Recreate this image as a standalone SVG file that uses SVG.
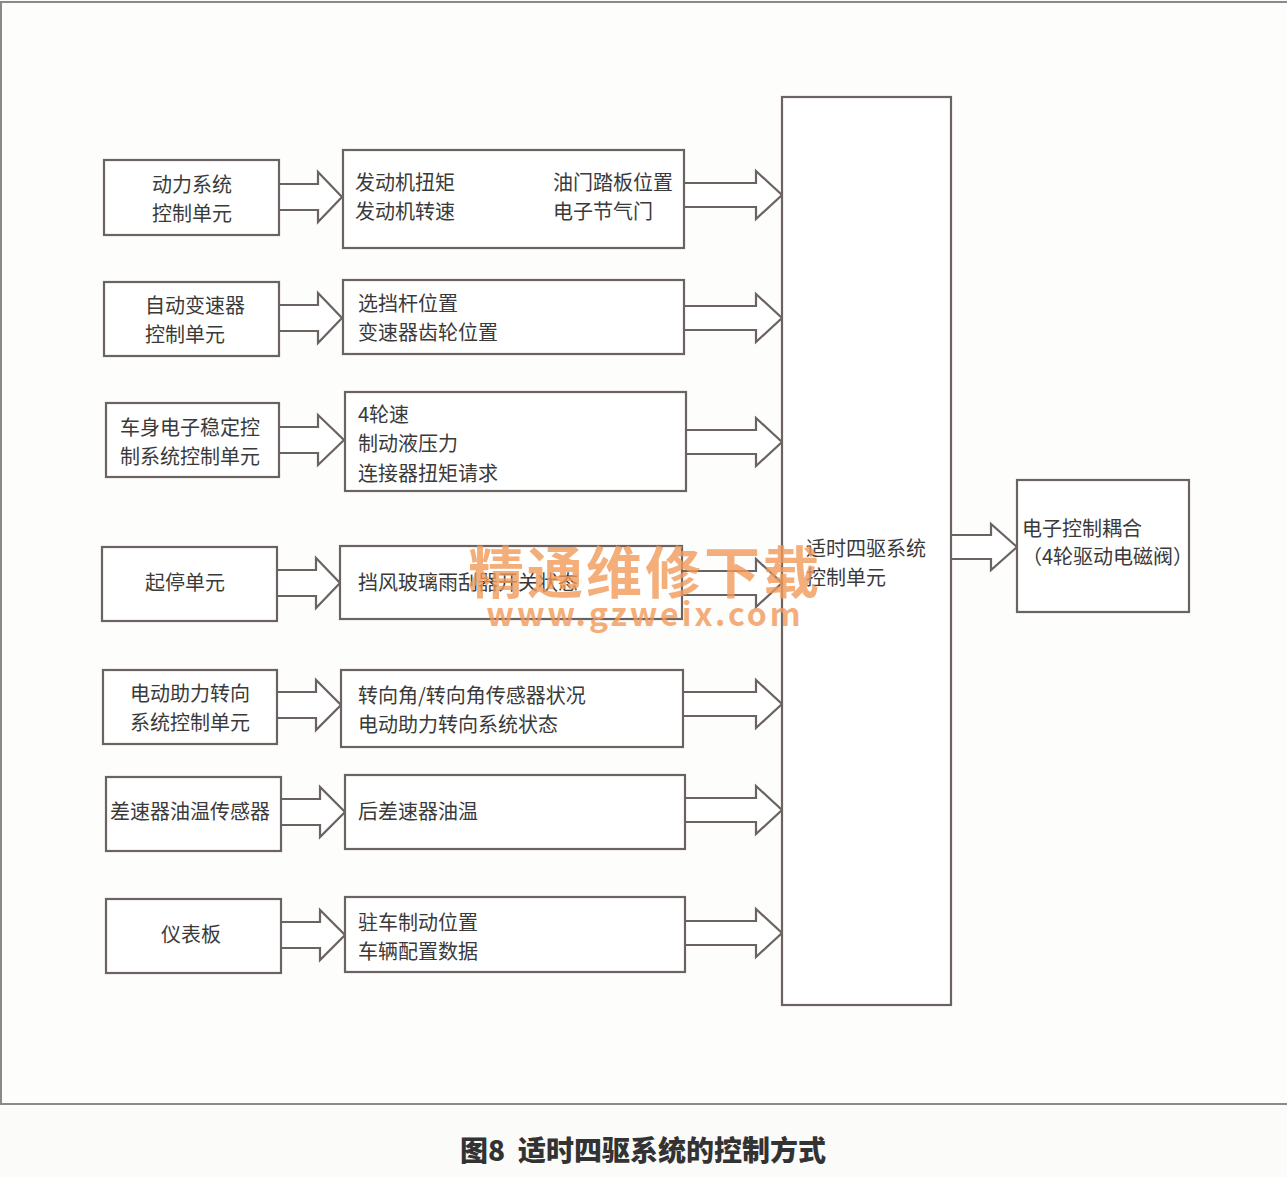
<svg xmlns="http://www.w3.org/2000/svg" width="1287" height="1177" viewBox="0 0 1287 1177">
<style>
.box{fill:#ffffff;stroke:#6b6262;stroke-width:2.2}
.arr{fill:#ffffff;stroke:#6b6262;stroke-width:2.2;stroke-linejoin:miter}
.t{font-family:"Noto Sans CJK SC","Noto Sans",sans-serif;font-size:20px;fill:#3a3a3a}
.cap{font-family:"Noto Sans CJK SC","Noto Sans",sans-serif;font-size:28px;font-weight:900;fill:#333333}
.wm{font-family:"Noto Sans CJK SC","Noto Sans",sans-serif;fill:#f29a5a;opacity:0.8;font-weight:bold}
</style>
<rect x="0" y="0" width="1287" height="1177" fill="#fbfbfa"/>
<rect x="1" y="2" width="1292" height="1102" fill="#fdfdfc" stroke="#8a8a8a" stroke-width="2"/>

<g id="connectors">
  <path class="arr" d="M279,184 L318,184 L318,172 L342,197 L318,222 L318,210 L279,210"/>
  <path class="arr" d="M279,305 L318,305 L318,293 L342,318 L318,343 L318,331 L279,331"/>
  <path class="arr" d="M279,427 L318,427 L318,415 L344,440 L318,465 L318,453 L279,453"/>
  <path class="arr" d="M277,570 L316,570 L316,558 L340,583 L316,608 L316,596 L277,596"/>
  <path class="arr" d="M277,692 L316,692 L316,680 L341,705 L316,730 L316,718 L277,718"/>
  <path class="arr" d="M281,799 L320,799 L320,787 L345,812 L320,837 L320,825 L281,825"/>
  <path class="arr" d="M281,922 L320,922 L320,910 L345,935 L320,960 L320,948 L281,948"/>

  <path class="arr" d="M684,183 L756,183 L756,171 L782,195 L756,219 L756,207 L684,207"/>
  <path class="arr" d="M684,306 L756,306 L756,294 L782,318 L756,342 L756,330 L684,330"/>
  <path class="arr" d="M686,430 L756,430 L756,418 L782,442 L756,466 L756,454 L686,454"/>
  <path class="arr" d="M682,571 L756,571 L756,559 L782,583 L756,607 L756,595 L682,595"/>
  <path class="arr" d="M683,692 L756,692 L756,680 L782,704 L756,728 L756,716 L683,716"/>
  <path class="arr" d="M685,798 L756,798 L756,786 L782,810 L756,834 L756,822 L685,822"/>
  <path class="arr" d="M685,921 L756,921 L756,909 L782,933 L756,957 L756,945 L685,945"/>

  <path class="arr" d="M951,535 L991,535 L991,524 L1017,547 L991,570 L991,559 L951,559"/>
</g>

<g id="n-powertrain"><rect class="box" x="104" y="160" width="175" height="75"/>
  <text class="t" x="152" y="192">动力系统</text><text class="t" x="152" y="221">控制单元</text></g>
<g id="n-transmission"><rect class="box" x="104" y="282" width="175" height="74"/>
  <text class="t" x="145" y="313">自动变速器</text><text class="t" x="145" y="342">控制单元</text></g>
<g id="n-esp"><rect class="box" x="106" y="403" width="173" height="74"/>
  <text class="t" x="120" y="435">车身电子稳定控</text><text class="t" x="120" y="464">制系统控制单元</text></g>
<g id="n-startstop"><rect class="box" x="102" y="547" width="175" height="74"/>
  <text class="t" x="145" y="590">起停单元</text></g>
<g id="n-eps"><rect class="box" x="103" y="670" width="174" height="74"/>
  <text class="t" x="130" y="701">电动助力转向</text><text class="t" x="130" y="730">系统控制单元</text></g>
<g id="n-diffsensor"><rect class="box" x="106" y="777" width="175" height="74"/>
  <text class="t" x="110" y="819">差速器油温传感器</text></g>
<g id="n-dash"><rect class="box" x="106" y="899" width="175" height="74"/>
  <text class="t" x="161" y="942">仪表板</text></g>

<g id="m-powertrain"><rect class="box" x="343" y="150" width="341" height="98"/>
  <text class="t" x="355" y="190">发动机扭矩</text><text class="t" x="355" y="219">发动机转速</text>
  <text class="t" x="553" y="190">油门踏板位置</text><text class="t" x="553" y="219">电子节气门</text></g>
<g id="m-transmission"><rect class="box" x="343" y="280" width="341" height="74"/>
  <text class="t" x="358" y="311">选挡杆位置</text><text class="t" x="358" y="340">变速器齿轮位置</text></g>
<g id="m-esp"><rect class="box" x="345" y="392" width="341" height="99"/>
  <text class="t" x="358" y="422">4轮速</text><text class="t" x="358" y="451">制动液压力</text><text class="t" x="358" y="481">连接器扭矩请求</text></g>
<g id="m-startstop"><rect class="box" x="340" y="546" width="342" height="73"/>
  <text class="t" x="358" y="590">挡风玻璃雨刮器开关状态</text></g>
<g id="m-eps"><rect class="box" x="341" y="670" width="342" height="77"/>
  <text class="t" x="358" y="703">转向角/转向角传感器状况</text><text class="t" x="358" y="732">电动助力转向系统状态</text></g>
<g id="m-diff"><rect class="box" x="345" y="775" width="340" height="74"/>
  <text class="t" x="358" y="819">后差速器油温</text></g>
<g id="m-dash"><rect class="box" x="345" y="897" width="340" height="75"/>
  <text class="t" x="358" y="930">驻车制动位置</text><text class="t" x="358" y="959">车辆配置数据</text></g>

<g id="n-awd"><rect class="box" x="782" y="97" width="169" height="908"/>
  <text class="t" x="806" y="556">适时四驱系统</text><text class="t" x="806" y="585">控制单元</text></g>
<g id="n-coupling"><rect class="box" x="1017" y="480" width="172" height="132"/>
  <text class="t" x="1022" y="536">电子控制耦合</text><text class="t" x="1022" y="564">（4轮驱动电磁阀）</text></g>

<g id="watermark">
  <text class="wm" x="645" y="593" font-size="56" text-anchor="middle" letter-spacing="3">精通维修下载</text>
  <text class="wm" x="645" y="626" font-size="32" text-anchor="middle" letter-spacing="3">www.gzweix.com</text>
</g>

<text class="cap" x="643" y="1161" text-anchor="middle" xml:space="preserve">图8  适时四驱系统的控制方式</text>
</svg>
